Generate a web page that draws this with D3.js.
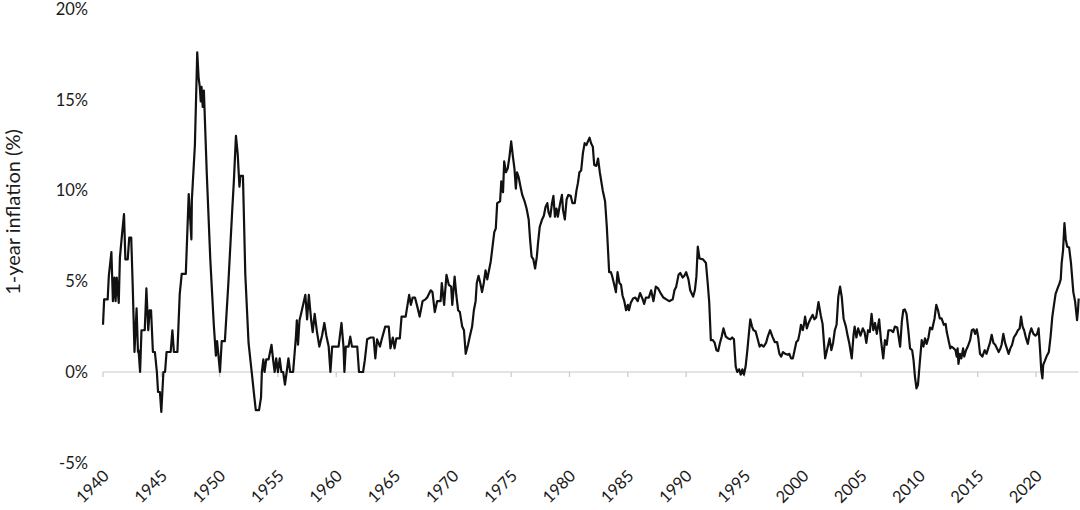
<!DOCTYPE html>
<html>
<head>
<meta charset="utf-8">
<script src="https://cdn.jsdelivr.net/npm/d3@7/dist/d3.min.js"></script>
<style>
  html, body { margin: 0; padding: 0; background: #fff; }
  svg { display: block; }
  text { font-family: Lato, "Open Sans", sans-serif; fill: #1a1a1a; }
</style>
</head>
<body>
<svg id="chart" width="1080" height="510"></svg>
<script>
// ---- DATA ----
const yTickValues = [-5, 0, 5, 10, 15, 20];
const xTickYears = [1940,1945,1950,1955,1960,1965,1970,1975,1980,1985,1990,1995,2000,2005,2010,2015,2020];
const yAxisTitle = "1-year inflation (%)";

const dates = [
1940.00,1940.10,1940.40,1940.50,1940.72,1940.85,1940.98,1941.08,1941.18,1941.35,1941.45,1941.62,1941.80,1941.92,
1942.12,1942.25,1942.42,1942.55,1942.70,1942.88,1943.00,1943.05,1943.18,1943.30,1943.58,1943.72,1943.88,1944.00,
1944.12,1944.28,1944.45,1944.62,1944.72,1944.88,1945.00,1945.18,1945.32,1945.45,1945.80,1945.95,1946.08,1946.38,
1946.58,1946.75,1947.10,1947.35,1947.58,1947.62,1947.88,1948.08,1948.20,1948.30,1948.38,1948.45,1948.55,1948.65,
1948.90,1949.20,1949.50,1949.68,1949.78,1949.90,1950.03,1950.18,1950.45,1950.75,1951.08,1951.22,1951.40,1951.55,
1951.70,1951.78,1952.00,1952.20,1952.48,1952.75,1952.98,1953.10,1953.38,1953.55,1953.62,1953.75,1953.85,1954.00,
1954.20,1954.45,1954.60,1954.72,1954.85,1955.00,1955.15,1955.30,1955.45,1955.60,1955.75,1955.90,1956.05,1956.30,
1956.55,1956.62,1956.72,1956.85,1956.98,1957.35,1957.50,1957.65,1957.85,1957.98,1958.15,1958.35,1958.55,1958.78,
1958.98,1959.15,1959.35,1959.50,1959.65,1960.20,1960.45,1960.62,1960.70,1960.82,1961.05,1961.20,1961.35,1961.80,
1961.95,1962.30,1962.45,1962.65,1962.95,1963.20,1963.35,1963.50,1963.75,1963.90,1964.20,1964.50,1964.65,1964.85,
1965.00,1965.15,1965.45,1965.60,1965.95,1966.25,1966.40,1966.55,1966.75,1966.95,1967.15,1967.40,1967.65,1967.80,
1968.10,1968.25,1968.45,1968.65,1968.95,1969.05,1969.25,1969.45,1969.65,1969.85,1969.95,1970.15,1970.30,1970.45,
1970.60,1970.80,1970.95,1971.10,1971.30,1971.45,1971.65,1971.80,1971.95,1972.05,1972.20,1972.35,1972.50,1972.65,
1972.80,1972.95,1973.10,1973.25,1973.55,1973.68,1973.80,1974.05,1974.15,1974.30,1974.40,1974.55,1974.70,1974.85,
1975.00,1975.15,1975.28,1975.40,1975.50,1975.65,1975.80,1975.95,1976.15,1976.32,1976.50,1976.62,1976.75,1976.90,
1977.05,1977.20,1977.30,1977.45,1977.65,1977.80,1977.95,1978.10,1978.20,1978.35,1978.50,1978.62,1978.75,1978.88,
1979.00,1979.20,1979.35,1979.45,1979.60,1979.75,1979.90,1980.10,1980.25,1980.45,1980.60,1980.72,1980.85,1981.00,
1981.15,1981.30,1981.45,1981.58,1981.72,1981.85,1982.00,1982.12,1982.30,1982.45,1982.60,1982.85,1983.05,1983.20,
1983.40,1983.55,1983.65,1983.80,1983.98,1984.12,1984.28,1984.42,1984.55,1984.70,1984.85,1985.00,1985.10,1985.25,
1985.45,1985.65,1985.85,1986.05,1986.28,1986.40,1986.55,1986.80,1987.00,1987.20,1987.40,1987.60,1987.85,1988.05,
1988.30,1988.55,1988.70,1988.85,1989.00,1989.15,1989.35,1989.50,1989.70,1989.85,1990.00,1990.20,1990.35,1990.60,
1990.75,1990.88,1991.00,1991.15,1991.45,1991.70,1991.85,1991.98,1992.12,1992.30,1992.45,1992.60,1992.75,1992.90,
1993.05,1993.20,1993.40,1993.60,1993.80,1993.95,1994.10,1994.25,1994.38,1994.55,1994.68,1994.82,1994.95,1995.10,
1995.25,1995.38,1995.50,1995.65,1995.78,1995.95,1996.10,1996.30,1996.45,1996.65,1996.85,1997.00,1997.20,1997.40,
1997.60,1997.80,1998.00,1998.15,1998.30,1998.50,1998.70,1998.85,1999.00,1999.15,1999.30,1999.45,1999.60,1999.72,
1999.85,2000.00,2000.10,2000.20,2000.35,2000.50,2000.65,2000.85,2001.00,2001.15,2001.35,2001.55,2001.70,2001.92,
2002.15,2002.30,2002.45,2002.60,2002.75,2002.90,2003.05,2003.20,2003.35,2003.50,2003.70,2003.85,2004.00,2004.20,
2004.35,2004.45,2004.60,2004.75,2004.95,2005.15,2005.30,2005.45,2005.60,2005.75,2005.90,2006.05,2006.20,2006.35,
2006.55,2006.70,2006.90,2007.05,2007.20,2007.35,2007.55,2007.75,2007.90,2008.10,2008.35,2008.50,2008.62,2008.75,
2008.90,2009.05,2009.20,2009.38,2009.50,2009.62,2009.75,2009.88,2010.02,2010.20,2010.35,2010.48,2010.62,2010.78,
2010.92,2011.10,2011.30,2011.45,2011.60,2011.75,2011.90,2012.10,2012.25,2012.35,2012.50,2012.65,2012.75,2012.95,
2013.10,2013.20,2013.28,2013.35,2013.48,2013.60,2013.75,2013.85,2014.00,2014.15,2014.35,2014.50,2014.65,2014.78,
2014.92,2015.05,2015.20,2015.40,2015.60,2015.75,2015.90,2016.05,2016.20,2016.35,2016.50,2016.65,2016.80,2016.95,
2017.05,2017.20,2017.35,2017.50,2017.65,2017.80,2017.95,2018.10,2018.30,2018.45,2018.60,2018.72,2018.85,2018.98,
2019.15,2019.30,2019.45,2019.60,2019.78,2019.95,2020.10,2020.22,2020.35,2020.45,2020.55,2020.62,2020.75,2020.90,
2021.10,2021.25,2021.40,2021.52,2021.68,2021.85,2022.00,2022.12,2022.20,2022.32,2022.44,2022.55,2022.68,2022.84,
2023.00,2023.20,2023.35,2023.52,2023.60,2023.66
];

const inflation = [
2.6,4.0,4.0,5.3,6.6,3.9,5.2,3.9,5.2,3.8,6.3,7.5,8.7,6.2,
6.2,7.4,7.4,4.7,1.1,3.5,1.1,1.2,0.0,2.3,2.3,4.6,2.3,3.4,
3.4,1.1,1.1,0.0,-1.1,-1.1,-2.2,0.0,0.0,1.1,1.1,2.3,1.1,1.1,
4.3,5.4,5.4,9.8,7.3,9.5,12.5,17.6,16.2,15.7,14.9,15.7,14.6,15.5,
10.9,6.2,2.6,0.9,1.7,0.9,0.0,1.7,1.7,4.9,8.9,10.5,13.0,12.0,
10.2,10.8,10.8,5.4,1.6,0.0,-1.4,-2.1,-2.1,-1.4,0.0,0.7,0.0,0.7,
0.7,1.5,0.6,0.0,0.75,0.0,0.75,0.0,0.0,-0.7,0.0,0.75,0.0,0.0,
2.0,2.85,1.5,2.85,3.2,4.25,2.9,4.25,2.85,2.2,3.2,2.2,1.4,2.0,
2.7,2.0,1.4,0.0,1.4,1.4,2.7,1.4,0.0,1.4,1.4,1.95,1.4,1.4,
0.0,0.0,0.65,1.8,1.9,1.9,0.75,1.8,1.4,1.8,2.5,2.5,1.3,1.9,
1.3,1.85,1.85,3.05,3.05,4.25,3.7,4.1,4.1,3.6,3.05,3.9,4.0,4.1,
4.5,4.4,3.3,3.9,3.9,4.9,3.7,5.35,4.8,4.7,3.7,5.25,4.2,3.4,
3.3,2.5,2.3,1.0,1.5,1.95,2.5,3.4,3.9,4.9,5.3,4.9,4.4,4.9,
5.6,5.1,5.6,6.1,7.7,7.9,9.3,9.4,10.5,9.9,11.6,11.0,11.2,11.85,
12.7,11.85,11.2,10.1,11.0,10.7,10.2,9.75,9.4,9.0,8.4,7.3,6.35,6.2,
5.7,6.35,7.1,8.0,8.4,8.6,9.1,9.3,8.8,8.55,9.3,9.7,8.55,9.0,
8.55,9.3,9.75,8.9,8.4,9.5,9.75,9.7,9.3,9.3,10.0,10.4,11.0,11.1,
12.05,12.6,12.5,12.7,12.9,12.6,12.4,11.4,11.35,11.75,11.0,10.0,9.4,8.0,
5.5,5.5,5.3,4.9,4.4,5.5,4.9,4.8,4.2,3.9,3.4,3.7,3.4,3.8,
4.05,4.1,3.9,4.35,4.0,3.75,4.1,4.1,4.5,3.9,4.7,4.6,4.3,4.1,
4.0,3.9,3.95,4.0,4.5,4.7,5.35,5.45,5.2,5.3,5.5,5.1,4.5,4.15,
4.5,5.25,6.9,6.25,6.2,6.0,4.9,3.85,1.75,1.75,1.6,1.2,1.15,1.6,
1.95,2.4,1.95,1.85,1.8,1.9,1.8,0.3,0.0,0.15,-0.15,0.15,-0.15,0.3,
1.2,2.1,2.9,2.5,2.3,2.25,1.9,1.4,1.5,1.4,1.6,1.95,2.3,1.95,
1.65,1.65,1.0,0.85,1.1,1.0,0.95,1.0,0.75,0.75,1.2,1.65,1.75,2.1,
2.6,2.3,2.6,3.05,2.4,2.7,2.9,3.15,2.9,3.0,3.85,3.1,2.65,0.75,
1.4,1.85,1.2,1.6,2.3,2.6,4.15,4.7,4.1,2.95,2.5,2.0,1.55,0.75,
2.0,2.5,1.9,2.4,2.0,2.4,2.2,1.6,2.3,2.2,3.2,2.3,2.7,2.1,
2.9,1.8,0.75,1.75,1.5,2.3,2.3,2.2,2.5,2.45,1.4,2.8,3.4,3.45,
3.2,2.3,1.3,1.2,0.65,-0.25,-0.9,-0.7,0.4,1.75,1.4,1.85,1.55,1.9,
2.45,2.35,2.95,3.7,3.4,2.95,2.95,2.6,2.65,2.2,1.75,1.3,1.4,1.3,
1.2,0.85,1.3,0.45,1.0,0.75,1.3,0.85,1.2,1.4,1.75,2.3,2.35,2.1,
2.35,1.9,1.0,0.85,1.2,1.0,1.3,1.6,2.05,1.6,1.5,1.3,1.1,1.3,
1.5,2.1,1.6,1.3,1.0,1.3,1.5,1.9,2.1,2.3,2.4,3.05,2.5,2.3,
1.85,1.55,2.1,2.4,2.1,2.0,2.1,2.4,1.2,0.1,-0.35,0.4,0.6,0.85,
1.1,1.95,3.05,3.6,4.3,4.6,4.85,5.1,6.0,6.7,8.2,7.3,6.9,6.85,
6.0,4.4,3.9,2.85,3.4,4.05
];

// ---- CHART ----
const svg = d3.select("#chart");

const x = d3.scaleLinear().domain([1940, 2020]).range([103, 1036]);
const y = d3.scaleLinear().domain([-5, 20]).range([462.8, 8.8]);

const points = dates.map((d, i) => [d, inflation[i]]);

// zero axis line
const y0 = y(0);
svg.append("line")
  .attr("x1", x(dates[0])).attr("x2", x(dates[dates.length - 1]))
  .attr("y1", y0).attr("y2", y0)
  .attr("stroke", "#cbcac2").attr("stroke-width", 1.2);

// x ticks
svg.append("g").selectAll("line")
  .data(xTickYears).join("line")
  .attr("x1", d => x(d)).attr("x2", d => x(d))
  .attr("y1", y0).attr("y2", y0 + 5)
  .attr("stroke", "#cbcac2").attr("stroke-width", 1.2);

// x tick labels (rotated)
svg.append("g").selectAll("text")
  .data(xTickYears).join("text")
  .attr("transform", d => `translate(${x(d) + 7},${477}) rotate(-45)`)
  .attr("text-anchor", "end")
  .attr("font-size", 16.5)
  .text(d => d);

// y tick labels
svg.append("g").selectAll("text")
  .data(yTickValues).join("text")
  .attr("x", 88)
  .attr("y", d => y(d))
  .attr("dy", "0.36em")
  .attr("text-anchor", "end")
  .attr("font-size", 16.5)
  .text(d => d + "%");

// y axis title
svg.append("text")
  .attr("transform", `translate(20,212) rotate(-90)`)
  .attr("text-anchor", "middle")
  .attr("font-size", 20)
  .text(yAxisTitle);

// line
const line = d3.line().x(d => x(d[0])).y(d => y(d[1]));
svg.append("path")
  .datum(points)
  .attr("fill", "none")
  .attr("stroke", "#111")
  .attr("stroke-width", 2.2)
  .attr("stroke-linejoin", "round")
  .attr("d", line);
</script>
</body>
</html>
